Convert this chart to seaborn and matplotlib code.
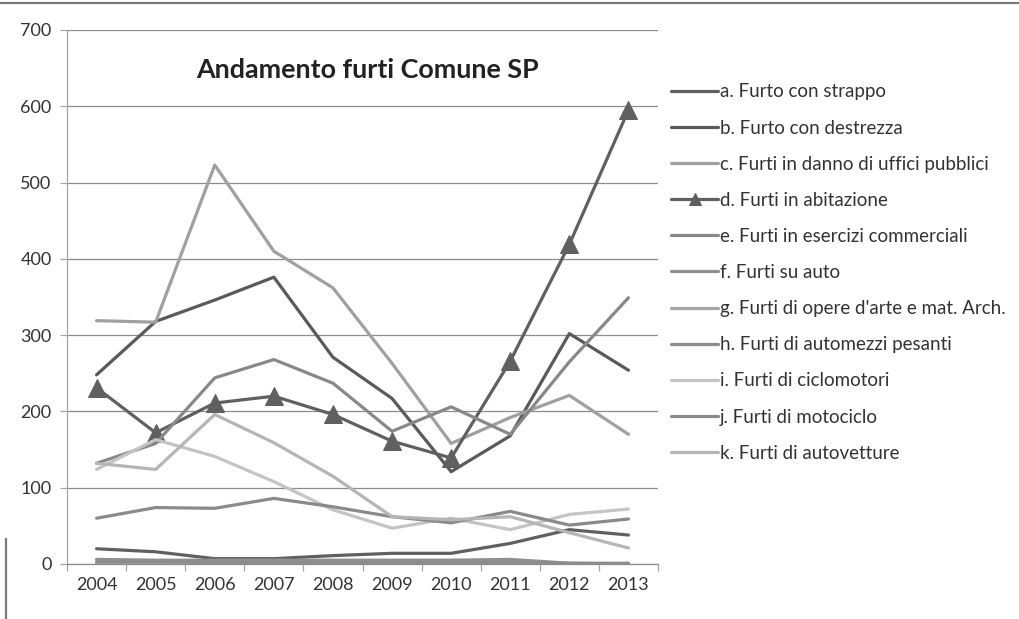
import numpy as np
import pandas as pd
import matplotlib
matplotlib.use("Agg")
import matplotlib.pyplot as plt
from matplotlib import font_manager
from matplotlib.lines import Line2D
import seaborn as sns

years = ["2004", "2005", "2006", "2007", "2008", "2009", "2010", "2011", "2012", "2013"]

labels = [
    "a. Furto con strappo",
    "b. Furto con destrezza",
    "c. Furti in danno di uffici pubblici",
    "d. Furti in abitazione",
    "e. Furti in esercizi commerciali",
    "f. Furti su auto",
    "g. Furti di opere d'arte e mat. Arch.",
    "h. Furti di automezzi pesanti",
    "i. Furti di ciclomotori",
    "j. Furti di motociclo",
    "k. Furti di autovetture",
]

a_vals = [20, 16, 7, 7, 11, 14, 14, 27, 45, 38]
b_vals = [248, 318, 346, 376, 271, 217, 121, 168, 302, 254]
c_vals = [319, 317, 523, 410, 362, 263, 158, 192, 221, 170]
d_vals = [231, 172, 211, 220, 196, 161, 139, 266, 419, 595]
e_vals = [132, 158, 244, 268, 237, 174, 206, 170, 265, 349]
f_vals = [6, 5, 5, 5, 5, 5, 5, 6, 1, 0]
g_vals = [1, 0, 0, 0, 0, 0, 0, 0, 0, 0]
h_vals = [3, 3, 2, 2, 2, 2, 2, 2, 1, 1]
i_vals = [124, 163, 141, 108, 71, 47, 60, 45, 65, 72]
j_vals = [60, 74, 73, 86, 75, 62, 54, 69, 51, 59]
k_vals = [132, 124, 196, 159, 115, 62, 58, 62, 41, 21]

series = [a_vals, b_vals, c_vals, d_vals, e_vals, f_vals,
          g_vals, h_vals, i_vals, j_vals, k_vals]

greys = ["#606060", "#5a5a5a", "#a0a0a0", "#606060", "#888888", "#8f8f8f",
         "#a6a6a6", "#8c8c8c", "#c4c4c4", "#8a8a8a", "#b5b5b5"]

# long form table for seaborn
rows = []
for lab, vals in zip(labels, series):
    for pos, v in enumerate(vals):
        rows.append({"serie": lab, "pos": pos, "furti": v})
df = pd.DataFrame(rows)

sns.set_theme(style="white")
installed = {f.name for f in font_manager.fontManager.ttflist}
font = "Liberation Sans Narrow" if "Liberation Sans Narrow" in installed else "Lato"
plt.rcParams["font.family"] = [font, "DejaVu Sans"]

fig = plt.figure(figsize=(10.19, 6.19), dpi=100)
ax = fig.add_axes([67 / 1019, 55 / 619, 591 / 1019, 534 / 619])

for lab, col in zip(labels, greys):
    sub = df[df["serie"] == lab]
    if lab.startswith("d."):
        sns.lineplot(data=sub, x="pos", y="furti", ax=ax, color=col, lw=2.3,
                     marker="^", markersize=13, markeredgecolor=col, label=lab)
    else:
        sns.lineplot(data=sub, x="pos", y="furti", ax=ax, color=col, lw=2.3, label=lab)

ax.set_xlim(-0.5, 9.5)
ax.set_ylim(0, 700)
ax.set_yticks(range(0, 701, 100))
ax.set_xticks(range(len(years)))
ax.set_xticklabels(years)
ax.set_xticks(np.arange(-0.5, 10, 1), minor=True)
ax.set_xlabel("")
ax.set_ylabel("")
ax.grid(axis="y", color="#8c8c8c", lw=0.9)
ax.set_axisbelow(True)

for s in ["top", "right"]:
    ax.spines[s].set_visible(False)
ax.spines["left"].set_color("#a6a6a6")
ax.spines["bottom"].set_color("#8c8c8c")
ax.spines["left"].set_linewidth(0.9)
ax.spines["bottom"].set_linewidth(0.9)

ax.tick_params(axis="x", which="major", length=0, pad=9, labelsize=13, colors="#333333")
ax.tick_params(axis="x", which="minor", length=5, width=0.9, color="#a6a6a6", bottom=True)
ax.tick_params(axis="y", length=5, width=0.9, color="#a6a6a6", pad=6, labelsize=13,
               colors="#333333", left=True)

fig.text(368 / 1019, 1 - 70 / 619, "Andamento furti Comune SP", ha="center", va="center",
         fontsize=19.4, fontweight="bold", color="#222222")

handles, labs = ax.get_legend_handles_labels()
leg = ax.legend(handles, labs, loc="upper left", bbox_to_anchor=(662 / 1019, 1 - 74 / 619),
                bbox_transform=fig.transFigure, frameon=False, fontsize=13.5,
                handlelength=2.5, handletextpad=0.1, labelspacing=1.02, borderpad=0,
                labelcolor="#333333")
for h in leg.legend_handles:
    h.set_markersize(9)

# chart frame
fig.add_artist(Line2D([0, 1], [1 - 3 / 619, 1 - 3 / 619], transform=fig.transFigure,
                      color="#7a7a7a", lw=1.6))
fig.add_artist(Line2D([6 / 1019, 6 / 1019], [0, 80 / 619], transform=fig.transFigure,
                      color="#7a7a7a", lw=1.6))

fig.savefig("out.png", dpi=100)
